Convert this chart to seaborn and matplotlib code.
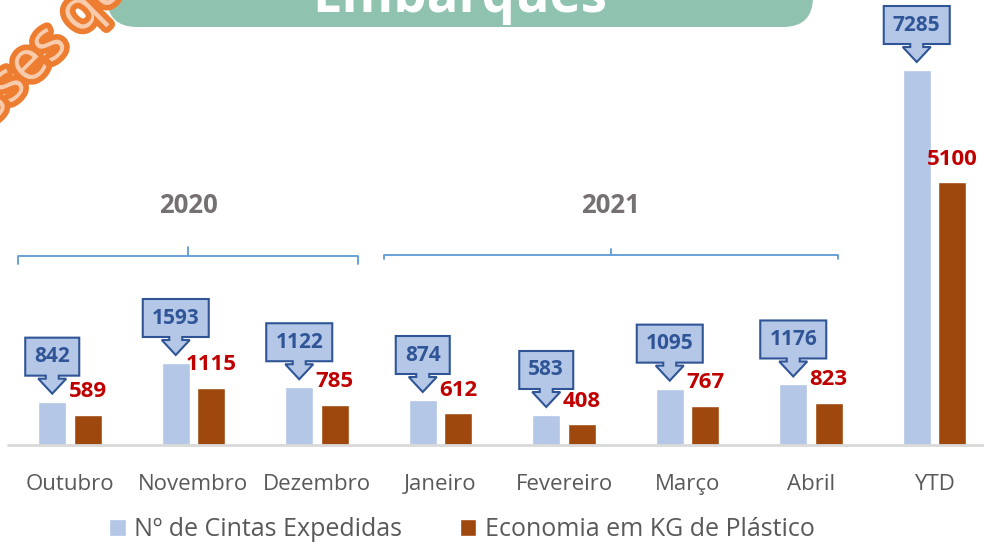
import numpy as np
import pandas as pd
import seaborn as sns
import matplotlib
matplotlib.use("Agg")
import matplotlib.pyplot as plt
import matplotlib.transforms as mtransforms
from matplotlib.patches import Polygon, FancyBboxPatch
import matplotlib.patheffects as pe

# ---- data ----
categories = ["Outubro", "Novembro", "Dezembro", "Janeiro", "Fevereiro", "Março", "Abril", "YTD"]
cintas = [842, 1593, 1122, 874, 583, 1095, 1176, 7285]
economia = [589, 1115, 785, 612, 408, 767, 823, 5100]
series_names = ["Nº de Cintas Expedidas", "Economia em KG de Plástico"]
year_groups = [("2020", 0, 2), ("2021", 3, 6)]
title = "Embarques"

df = pd.DataFrame({
    "cat": categories * 2,
    "val": cintas + economia,
    "serie": [series_names[0]] * len(categories) + [series_names[1]] * len(categories),
})

sns.set_theme(style="white")
plt.rcParams["font.family"] = ["Open Sans", "DejaVu Sans"]

W, H = 984, 548
fig = plt.figure(figsize=(W / 100, H / 100), dpi=100)
ax = fig.add_axes([8.25 / W, (H - 445) / H, 988 / W, 445 / H])

blue = "#B4C7E7"
brown = "#9E480E"
sns.barplot(data=df, x="cat", y="val", hue="serie", palette=[blue, brown],
            width=0.575, gap=0.225, ax=ax, saturation=1)

ax.set_xlim(-0.5, len(categories) - 0.5)
ax.set_ylim(0, 8645)
for s in ax.spines.values():
    s.set_visible(False)
ax.set_yticks([])
ax.set_xlabel("")
ax.set_ylabel("")
ax.tick_params(axis="x", length=0, pad=21, labelsize=16, labelcolor="#595959")
ax.axhline(0, color="#D9D9D9", lw=2, zorder=5, clip_on=False)

# ---- callouts for blue series ----
edge = "#2F5597"
for bar, v in zip(ax.containers[0], cintas):
    bx = bar.get_x() + bar.get_width() / 2
    by = bar.get_height()
    label = str(v)
    w = len(label) * 12 + 18
    verts = [(0, 0), (14, 15), (6.5, 15), (6.5, 18), (w / 2, 18), (w / 2, 56),
             (-w / 2, 56), (-w / 2, 18), (-6.5, 18), (-6.5, 15), (-14, 15)]
    tr = mtransforms.Affine2D().translate(0, 8) + mtransforms.ScaledTranslation(bx, by, ax.transData)
    poly = Polygon(verts, closed=True, facecolor=blue, edgecolor=edge, lw=1.5,
                   transform=tr, clip_on=False, zorder=6, joinstyle="miter")
    ax.add_patch(poly)
    ax.annotate(label, xy=(bx, by), xytext=(0, (8 + 37) * 0.72), textcoords="offset points",
                ha="center", va="center", fontsize=15, fontweight="bold",
                color=edge, zorder=7, annotation_clip=False)

# ---- labels for brown series ----
for bar, v in zip(ax.containers[1], economia):
    bx = bar.get_x() + bar.get_width() / 2
    by = bar.get_height()
    ax.annotate(str(v), xy=(bx, by), xytext=(0, 12.5), textcoords="offset points",
                ha="center", va="baseline", fontsize=16, fontweight="bold",
                color="#C00000", zorder=7, annotation_clip=False)

# ---- year brackets ----
tb = ax.get_xaxis_transform()
bcol = "#5B9BD5"
for (yr, i0, i1), (yl, ye, yt) in zip(year_groups, [(0.4247, 0.4067, 0.4449), (0.427, 0.418, 0.440)]):
    x0 = i0 - 0.42 if i0 == 0 else i0 - 0.46
    x1 = i1 + 0.33 if i0 == 0 else i1 + 0.22
    xm = (x0 + x1) / 2
    ax.plot([x0, x0, x1, x1], [ye, yl, yl, ye], color=bcol, lw=1.3, transform=tb, clip_on=False)
    ax.plot([xm, xm], [yl, yt], color=bcol, lw=1.3, transform=tb, clip_on=False)
    ax.text(xm, 0.5393, yr, transform=tb, ha="center", va="center", fontsize=18.5,
            fontweight="bold", color="#767171")

# ---- legend ----
sns.move_legend(ax, "center", bbox_to_anchor=(462 / W, 18 / H), bbox_transform=fig.transFigure,
                ncol=2, frameon=False, title=None, fontsize=18, handlelength=0.65, handleheight=0.65,
                handletextpad=0.35, columnspacing=2.3, labelcolor="#595959")

# ---- title box (cropped at top) ----
box = FancyBboxPatch((107 + 30, H - 27 + 30), 706 - 60, 200, boxstyle="round,pad=30,rounding_size=30",
                     transform=mtransforms.IdentityTransform(), facecolor="#8FC3B0", edgecolor="none",
                     zorder=1)
fig.add_artist(box)
fig.text(460 / W, 1 - 12 / H, title, ha="center", va="baseline", fontsize=38, fontweight="bold",
         color="white", zorder=2)

# ---- decorative orange text (cropped) ----
fig.text(-31 / W, 1 - 146 / H, "esses que", rotation=45, rotation_mode="anchor",
         ha="left", va="baseline", fontsize=40, color="#F8CBAD", zorder=3,
         path_effects=[pe.Stroke(linewidth=8, foreground="#ED7D31"), pe.Normal()])

fig.savefig("out.png", dpi=100)
